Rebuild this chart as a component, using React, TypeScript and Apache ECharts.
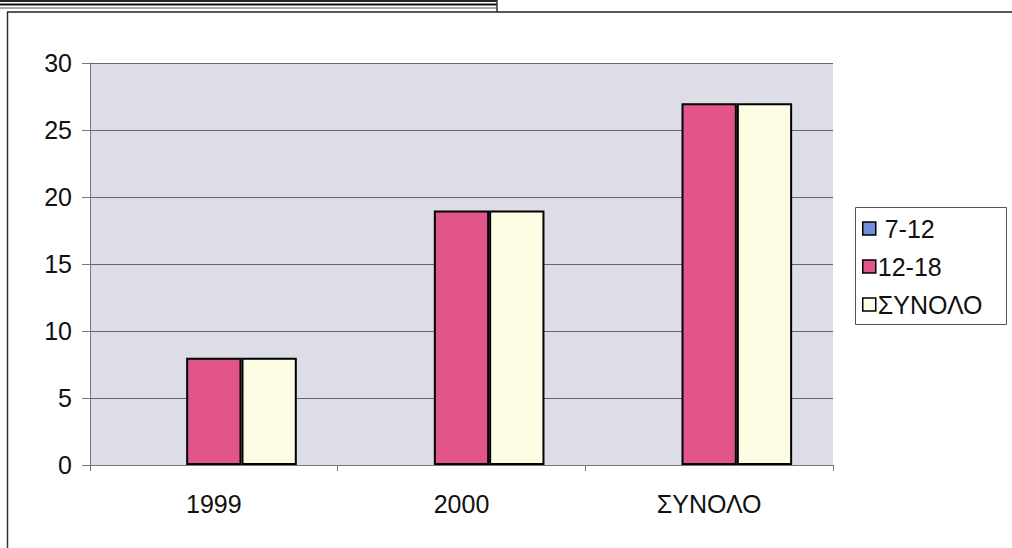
import React, { useEffect, useRef } from "react";
import * as echarts from "echarts";

const categories = ["1999", "2000", "ΣΥΝΟΛΟ"];
const seriesNames = [" 7-12", "12-18", "ΣΥΝΟΛΟ"];
const values712 = [0, 0, 0];
const values1218 = [8, 19, 27];
const valuesTotal = [8, 19, 27];
const yTicks = [0, 5, 10, 15, 20, 25, 30];

const colors = ["#6f8fd6", "#e2558a", "#fdfde4"];

export default function App() {
  const ref = useRef<HTMLDivElement>(null);
  useEffect(() => {
    document.body.style.margin = "0";
    const chart = echarts.init(ref.current!, null, { renderer: "svg" });
    const font = "'Liberation Sans', Arial, sans-serif";
    const seriesData = [values712, values1218, valuesTotal];
    chart.setOption({
      animation: false,
      backgroundColor: "#ffffff",
      textStyle: { fontFamily: font },
      grid: { left: 90, right: 179, top: 63, bottom: 83, containLabel: false, show: true, backgroundColor: "#dddde7", borderWidth: 0 },
      legend: {
        orient: "vertical",
        left: 855,
        top: 207,
        itemWidth: 13,
        itemHeight: 13,
        itemGap: 11,
        padding: [8, 10, 8, 7],
        borderWidth: 0,
        textStyle: { fontSize: 25, lineHeight: 27, color: "#111", fontFamily: font, padding: [0, 0, 0, -3] },
        data: seriesNames.map((n) => ({ name: n, icon: "rect", itemStyle: { borderColor: "#000", borderWidth: 1.5 } })),
      },
      xAxis: {
        type: "category",
        data: categories,
        axisLine: { lineStyle: { color: "#777", width: 1 } },
        axisTick: { show: true, length: 6, lineStyle: { color: "#777" } },
        axisLabel: { fontSize: 25, color: "#111", margin: 26, fontFamily: font },
      },
      yAxis: {
        type: "value",
        min: 0,
        max: 30,
        interval: 5,
        axisLine: { show: true, lineStyle: { color: "#777", width: 1 } },
        axisTick: { show: true, length: 8, lineStyle: { color: "#777" } },
        axisLabel: { fontSize: 25, color: "#111", margin: 18, fontFamily: font, formatter: (v: number) => (yTicks.includes(v) ? String(v) : "") },
        splitLine: { show: true, lineStyle: { color: "#666", width: 1 } },
      },
      series: seriesNames.map((n, i) => ({
        name: n,
        type: "bar",
        data: seriesData[i],
        barGap: "0%",
        barCategoryGap: "33%",
        itemStyle: { color: colors[i], borderColor: "#000", borderWidth: i === 0 ? 0 : 2 },
      })),
      graphic: [
        { type: "rect", shape: { x: 0, y: 0, width: 497, height: 2 }, style: { fill: "#222" } },
        { type: "rect", shape: { x: 0, y: 3.5, width: 497, height: 2 }, style: { fill: "#111" } },
        { type: "line", shape: { x1: 0, y1: 8, x2: 497, y2: 8 }, style: { stroke: "#555", lineWidth: 1 } },
        { type: "line", shape: { x1: 497, y1: 0, x2: 497, y2: 12 }, style: { stroke: "#333", lineWidth: 1.5 } },
        { type: "line", shape: { x1: 7, y1: 12, x2: 1012, y2: 12 }, style: { stroke: "#222", lineWidth: 1.5 } },
        { type: "line", shape: { x1: 7.5, y1: 12, x2: 7.5, y2: 548 }, style: { stroke: "#333", lineWidth: 1.5 } },
        { type: "rect", z: -1, shape: { x: 855.5, y: 207.5, width: 151, height: 117 }, style: { fill: "#fff", stroke: "#555", lineWidth: 1 } },
      ],
    });
    return () => chart.dispose();
  }, []);
  return <div ref={ref} style={{ position: "fixed", left: 0, top: 0, width: 1012, height: 548 }} />;
}
